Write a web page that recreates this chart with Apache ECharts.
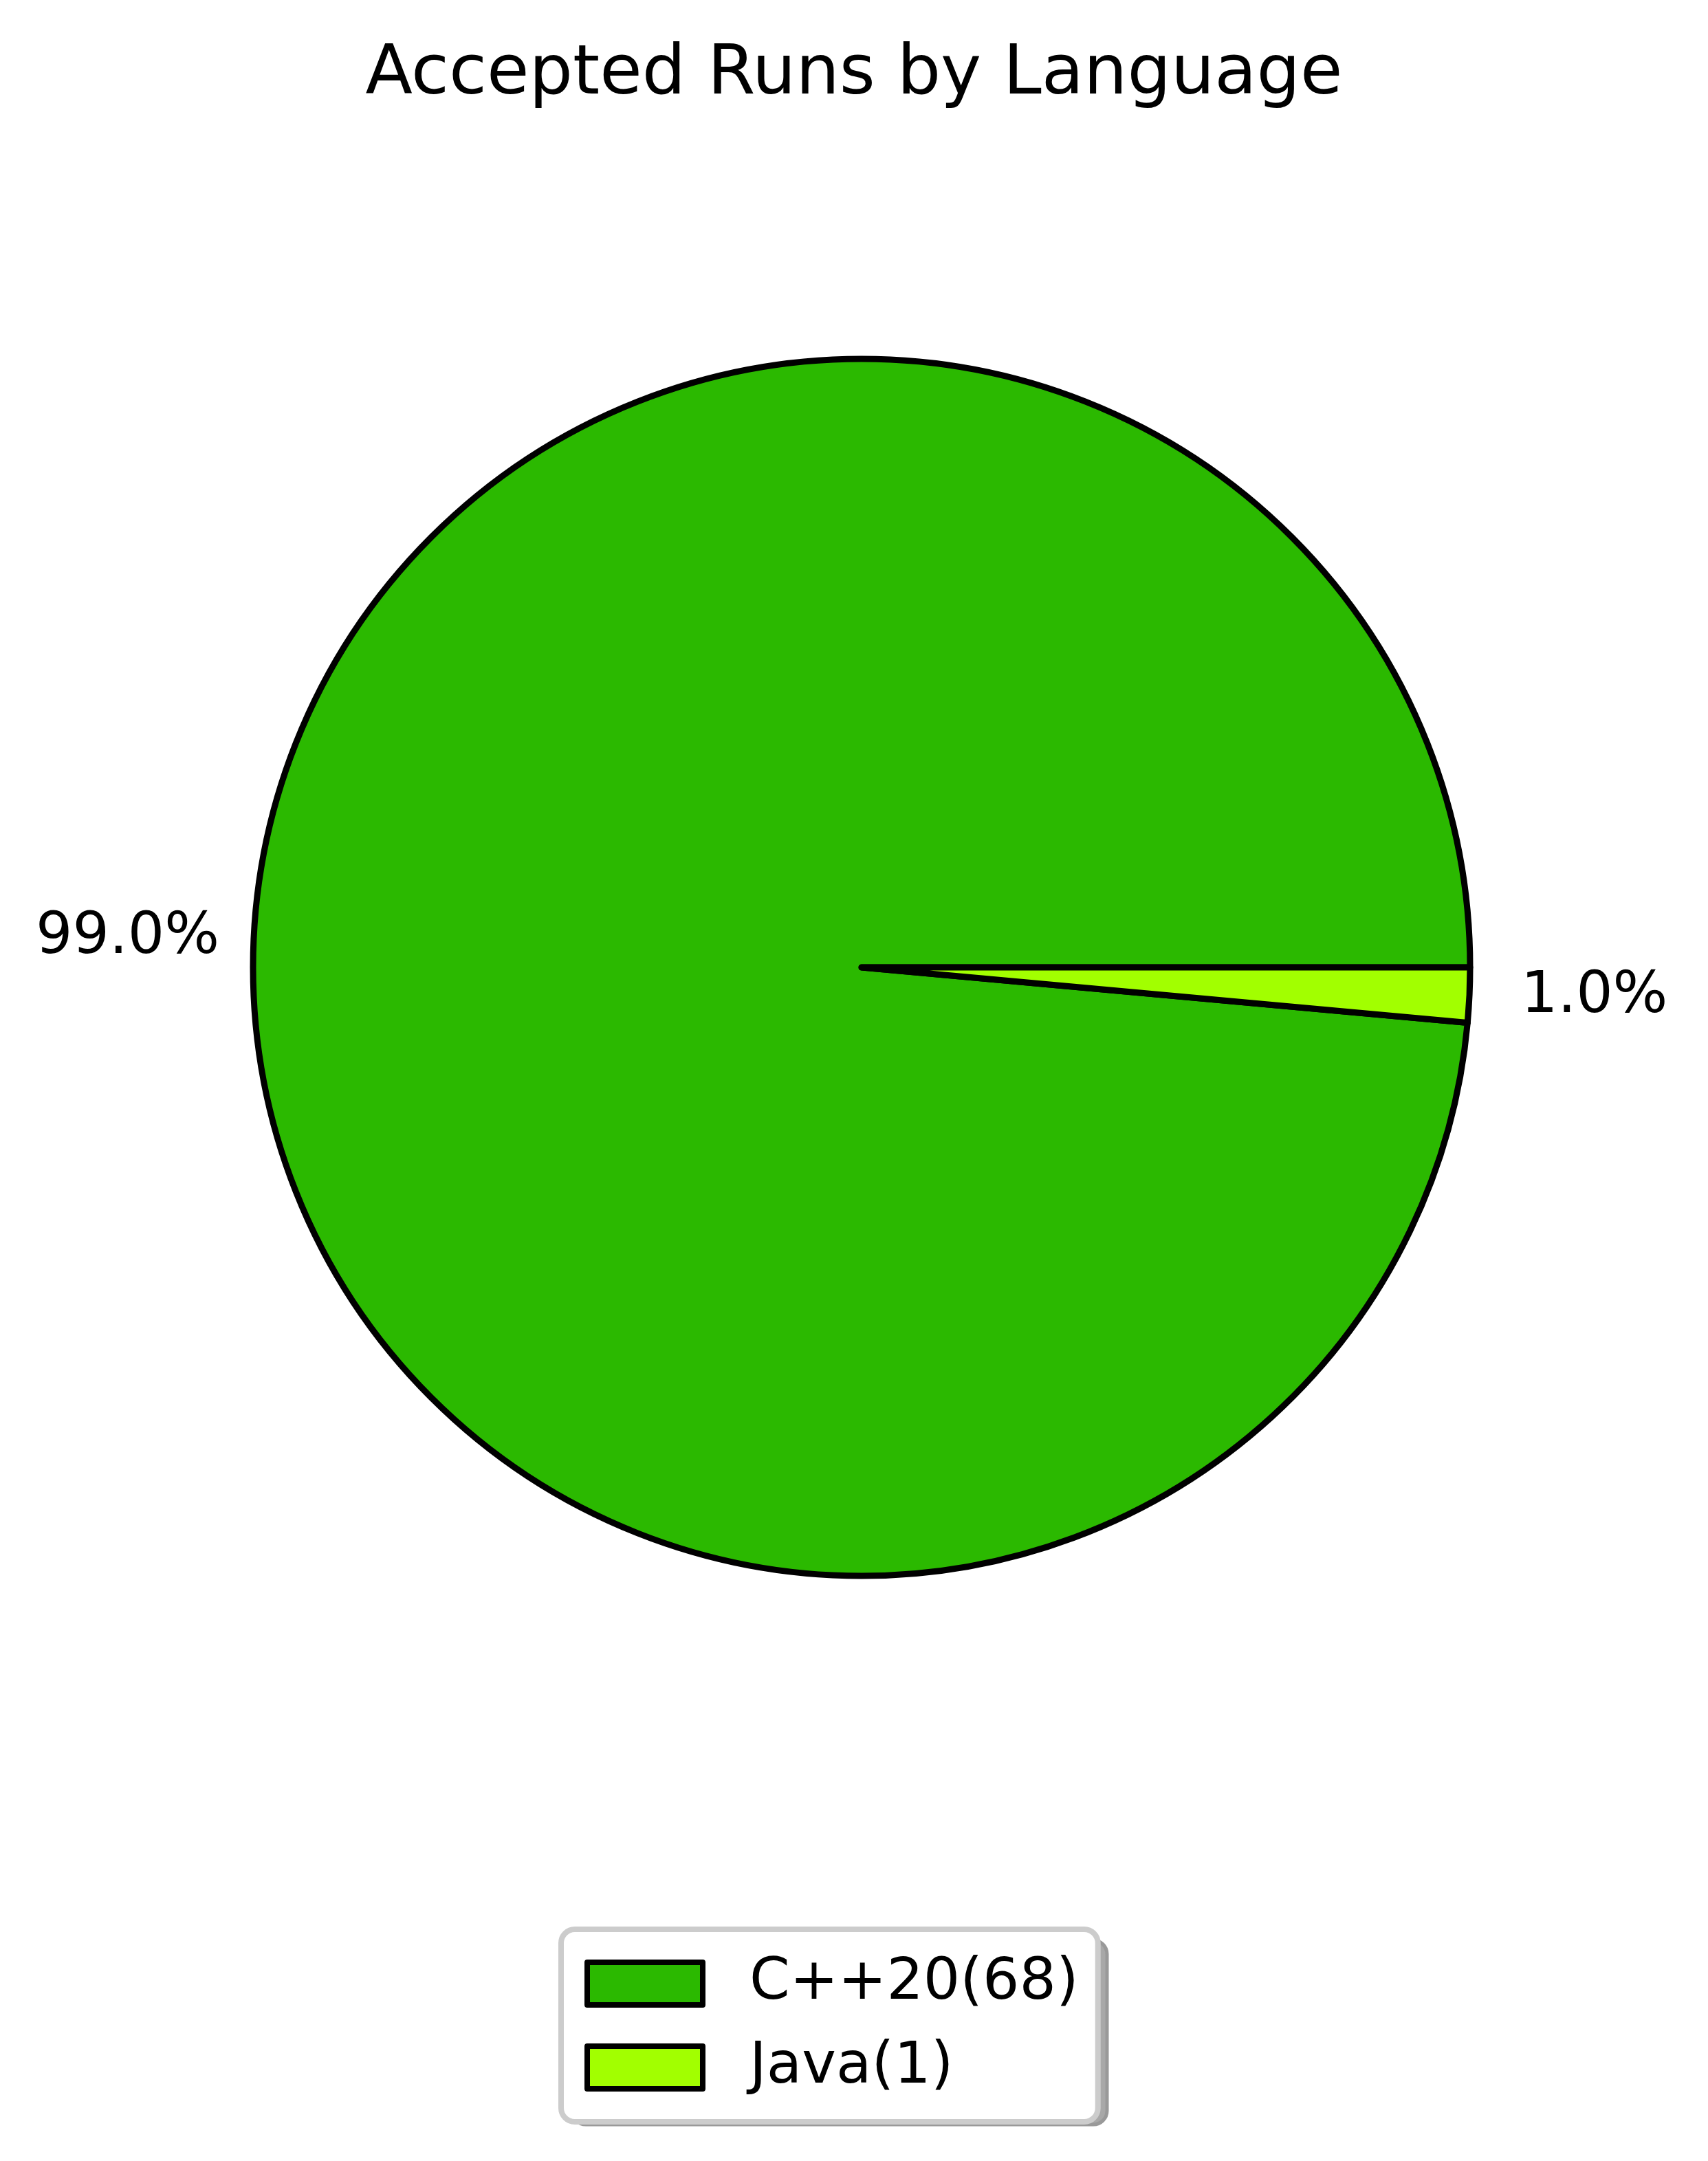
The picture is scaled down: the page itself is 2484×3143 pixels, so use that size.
<!DOCTYPE html>
<html>
<head>
<meta charset="utf-8">
<script src="https://cdn.jsdelivr.net/npm/echarts@6/dist/echarts.min.js"></script>
<style>
html,body{margin:0;padding:0;background:#fff;}
#chart{width:2484px;height:3143px;}
</style>
</head>
<body>
<div id="chart"></div>
<script>
const titleText = 'Accepted Runs by Language';
const languages = ['C++20(68)', 'Java(1)'];
const runCounts = [68, 1];
const pctLabels = ['99.0%', '1.0%'];
const sliceColors = ['#2BB900', '#A2FF00'];

const labelGaps = [45, 70];
const FONT = 'DejaVu Sans';

const chart = echarts.init(document.getElementById('chart'), null, {renderer: 'canvas', devicePixelRatio: 1});
const data = languages.map((name, i) => ({
  name: name,
  value: runCounts[i],
  itemStyle: {color: sliceColors[i]},
  labelLine: {show: false, length: labelGaps[i], length2: 0}
}));

// legend frame geometry (layout only)
const LEG_X = 816, LEG_Y = 2806, LEG_W = 778, LEG_H = 268, SHADOW = 16;

chart.setOption({
  backgroundColor: '#ffffff',
  animation: false,
  title: {
    text: titleText,
    left: 'center',
    top: 60,
    padding: 0,
    textStyle: {fontFamily: FONT, fontSize: 100, fontWeight: 'normal', color: '#000'}
  },
  graphic: [{
    type: 'rect',
    z: 1,
    silent: true,
    shape: {x: LEG_X + SHADOW, y: LEG_Y + SHADOW, width: LEG_W, height: LEG_H, r: 20},
    style: {fill: '#a8a8a8', stroke: '#999999', lineWidth: 5}
  }],
  legend: {
    orient: 'vertical',
    left: LEG_X,
    top: LEG_Y,
    z: 5,
    padding: [37, 28, 37, 34],
    itemWidth: 168,
    itemHeight: 62,
    itemGap: 38,
    icon: 'rect',
    backgroundColor: '#ffffff',
    borderColor: '#cccccc',
    borderWidth: 8,
    borderRadius: 20,
    itemStyle: {borderColor: '#000', borderWidth: 8},
    textStyle: {fontFamily: FONT, fontSize: 84, color: '#000', lineHeight: 62, padding: [0, 0, 0, 63]},
    data: languages
  },
  series: [{
    type: 'pie',
    center: [1253, 1407],
    radius: [0, 885],
    startAngle: 0,
    clockwise: false,
    avoidLabelOverlap: false,
    itemStyle: {borderColor: '#000', borderWidth: 9},
    emphasis: {disabled: true},
    label: {
      show: true,
      position: 'outside',
      fontFamily: FONT,
      fontSize: 84,
      color: '#000',
      formatter: p => pctLabels[p.dataIndex]
    },
    labelLine: {show: false},
    data: data
  }]
});
</script>
</body>
</html>
